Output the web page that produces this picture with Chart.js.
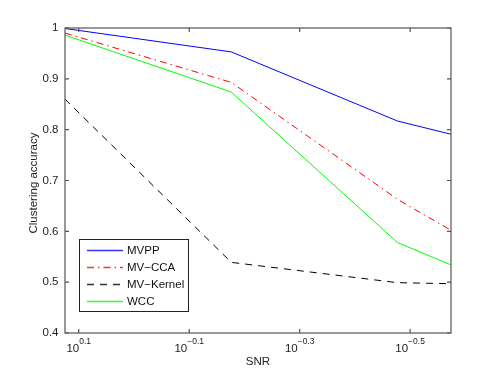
<!DOCTYPE html>
<html>
<head>
<meta charset="utf-8">
<script src="https://cdn.jsdelivr.net/npm/chart.js@4.4.0/dist/chart.umd.min.js"></script>
<style>
html, body { margin: 0; padding: 0; background: #fff; }
</style>
</head>
<body>
<canvas id="snrChart" width="498" height="375"></canvas>
<script>
// SNR values (x axis runs from high to low SNR)
var snr = [4 / 3, 2 / 3, 1 / 3, 4 / 15];
var mvpp = [0.999, 0.953, 0.817, 0.791];
var mvcca = [0.990, 0.893, 0.663, 0.602];
var mvKernel = [0.860, 0.539, 0.499, 0.497];
var wcc = [0.986, 0.874, 0.578, 0.534];
var xTickExps = [0.1, -0.1, -0.3, -0.5];
var yTicks = [0.4, 0.5, 0.6, 0.7, 0.8, 0.9, 1];

var FONT = 'Liberation Sans, Arial, Helvetica, sans-serif';

function pts(ys) {
    return ys.map(function (y, i) { return { x: snr[i], y: y }; });
}

// box, inner ticks, x labels with exponents, axis titles
var matlabAxes = {
    id: 'matlabAxes',
    afterDatasetsDraw: function (chart) {
        var ctx = chart.ctx;
        var a = chart.chartArea;
        var xs = chart.scales.x, ys = chart.scales.y;
        ctx.save();
        ctx.strokeStyle = '#555';
        ctx.lineWidth = 1.2;
        ctx.strokeRect(a.left, a.top, a.right - a.left, a.bottom - a.top);
        ctx.beginPath();
        xs.ticks.forEach(function (t) {
            var px = xs.getPixelForValue(t.value);
            ctx.moveTo(px, a.bottom); ctx.lineTo(px, a.bottom - 4);
            ctx.moveTo(px, a.top); ctx.lineTo(px, a.top + 4);
        });
        ys.ticks.forEach(function (t) {
            var py = ys.getPixelForValue(t.value);
            ctx.moveTo(a.left, py); ctx.lineTo(a.left + 4, py);
            ctx.moveTo(a.right, py); ctx.lineTo(a.right - 4, py);
        });
        ctx.stroke();

        // x tick labels: 10^e
        ctx.fillStyle = '#222';
        ctx.textBaseline = 'alphabetic';
        ctx.textAlign = 'left';
        xTickExps.forEach(function (e) {
            var px = xs.getPixelForValue(Math.pow(10, e));
            var expText = (e < 0 ? '\u2212' : '') + Math.abs(e).toFixed(1);
            ctx.font = '11.5px ' + FONT;
            var wb = ctx.measureText('10').width;
            ctx.font = '8.5px ' + FONT;
            var we = ctx.measureText(expText).width;
            var x0 = px - (wb + we) / 2;
            ctx.font = '11.5px ' + FONT;
            ctx.fillText('10', x0, 352);
            ctx.font = '8.5px ' + FONT;
            ctx.fillText(expText, x0 + wb, 344);
        });

        // axis titles
        ctx.font = '11.5px ' + FONT;
        ctx.textAlign = 'center';
        ctx.fillText('SNR', (a.left + a.right) / 2, 364.5);
        ctx.translate(36.5, 183);
        ctx.rotate(-Math.PI / 2);
        ctx.fillText('Clustering accuracy', 0, 0);
        ctx.restore();
    },
    afterDraw: function (chart) {
        // legend box in the lower left of the plot
        var ctx = chart.ctx;
        ctx.save();
        ctx.fillStyle = '#fff';
        ctx.fillRect(79.5, 239.5, 109, 72);
        ctx.strokeStyle = '#222';
        ctx.lineWidth = 1;
        ctx.strokeRect(79.5, 239.5, 109, 72);
        ctx.font = '11.5px ' + FONT;
        ctx.textBaseline = 'middle';
        ctx.textAlign = 'left';
        chart.data.datasets.forEach(function (ds, i) {
            var y = 250.5 + i * 17;
            ctx.strokeStyle = ds.borderColor;
            ctx.globalAlpha = 0.8;
            ctx.lineWidth = 1.3;
            ctx.setLineDash(ds.borderDash || []);
            ctx.beginPath();
            ctx.moveTo(87, y);
            ctx.lineTo(123, y);
            ctx.stroke();
            ctx.setLineDash([]);
            ctx.globalAlpha = 1;
            ctx.fillStyle = '#111';
            ctx.fillText(ds.label, 127, y);
        });
        ctx.restore();
    }
};

var ctx = document.getElementById('snrChart').getContext('2d');
var myChart = new Chart(ctx, {
    type: 'line',
    data: {
        datasets: [
            { label: 'MVPP', data: pts(mvpp), borderColor: '#0000ff', borderWidth: 1 },
            { label: 'MV\u2212CCA', data: pts(mvcca), borderColor: '#ff0000', borderWidth: 1, borderDash: [7, 4, 1.5, 4] },
            { label: 'MV\u2212Kernel', data: pts(mvKernel), borderColor: '#000000', borderWidth: 1, borderDash: [7, 6] },
            { label: 'WCC', data: pts(wcc), borderColor: '#00ff00', borderWidth: 1 }
        ]
    },
    options: {
        responsive: false,
        animation: false,
        devicePixelRatio: 1,
        layout: {
            padding: { left: 0, right: 47, top: 28, bottom: 0 }
        },
        elements: {
            point: { radius: 0 },
            line: { tension: 0, fill: false }
        },
        plugins: {
            legend: { display: false },
            tooltip: { enabled: false }
        },
        scales: {
            x: {
                type: 'logarithmic',
                reverse: true,
                min: 4 / 15,
                max: 4 / 3,
                grid: { display: false },
                border: { display: false },
                ticks: { display: false },
                afterBuildTicks: function (scale) {
                    scale.ticks = xTickExps.map(function (e) { return { value: Math.pow(10, e) }; });
                },
                afterFit: function (scale) { scale.height = 42; }
            },
            y: {
                type: 'linear',
                min: 0.4,
                max: 1,
                grid: { display: false, drawTicks: false },
                border: { display: false },
                ticks: {
                    padding: 6.5,
                    color: '#222',
                    font: { family: FONT, size: 11.5 },
                    callback: function (v) { return v === 1 ? '1' : v.toFixed(1); }
                },
                afterBuildTicks: function (scale) {
                    scale.ticks = yTicks.map(function (v) { return { value: v }; });
                },
                afterFit: function (scale) { scale.width = 65; }
            }
        }
    },
    plugins: [matlabAxes]
});
</script>
</body>
</html>
